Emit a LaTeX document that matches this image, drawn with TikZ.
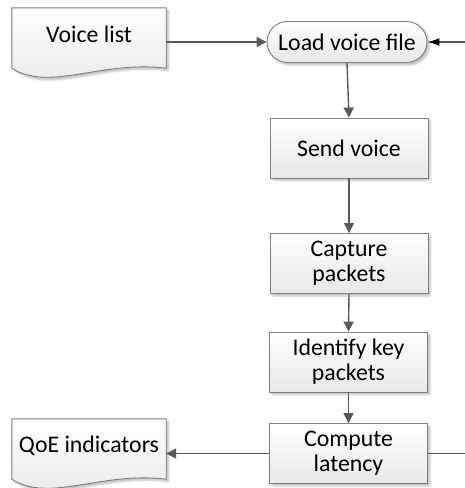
\documentclass[tikz,border=0pt]{standalone}
\usepackage{fontspec}
\setmainfont{Carlito}
\usetikzlibrary{arrows.meta,shapes.misc,shadows.blur,calc}

\definecolor{edgegray}{HTML}{7F7F7F}
\definecolor{linegray}{HTML}{595959}

\tikzset{
  lbl/.style={font=\fontsize{23.8}{25}\selectfont, align=center, text=black},
  softshadow/.style={blur shadow={shadow xshift=2.5pt, shadow yshift=-2.5pt,
      shadow blur steps=4, shadow blur extra rounding=1pt, shadow opacity=25}},
  paper/.style={draw=edgegray, line width=0.9pt, top color=white, bottom color=black!9},
  procbox/.style={lbl, paper, softshadow, rectangle, minimum width=158pt, minimum height=60pt, inner sep=0pt},
  termbox/.style={lbl, paper, softshadow, rounded rectangle, minimum width=160pt, minimum height=41pt, inner sep=0pt},
  docbox/.style={lbl, rectangle, minimum width=154pt, minimum height=60pt, inner sep=0pt},
  flow/.style={draw=linegray, line width=1.4pt, -{Triangle[width=10pt,length=10pt]}},
  feed/.style={draw=linegray, line width=1.4pt, -{Latex[width=8pt,length=12pt,black]}},
  plain/.style={draw=linegray, line width=1.4pt},
}

% document symbol: flat top, wavy bottom
\newcommand{\docshape}[1]{%
  \path[paper, softshadow]
    (#1.north west) -- (#1.north east) -- (#1.south east)
    .. controls ($(#1.south east)+(-66,-8)$) and ($(#1.south west)+(38,24)$) .. (#1.south west)
    -- cycle;
}

\begin{document}
\begin{tikzpicture}[x=1pt, y=-1pt]
  \useasboundingbox (0,0) rectangle (465,488);

  % documents
  \node[docbox] (vl) at (89,38) {};
  \docshape{vl}
  \node[lbl] (vltxt) at (89,34) {Voice list};

  \node[docbox] (qoe) at (89,449) {};
  \docshape{qoe}
  \node[lbl] (qoetxt) at (89,446) {QoE indicators};

  % process chain
  \node[termbox] (lvf) at (347,42) {Load voice file};
  \node[procbox] (sv)  at (349,148) {Send voice};
  \node[procbox] (cp)  at (349,263.5) {Capture\\packets};
  \node[procbox] (ik)  at (348.5,362) {Identify key\\packets};
  \node[procbox] (cl)  at (348.5,453.5) {Compute\\latency};

  % loop ends leaving the frame on the right
  \coordinate (loopin)  at (465,42);
  \coordinate (loopout) at (465,453.5);

  % connectors
  \draw[flow] (vl.east |- lvf.west) -- (lvf.west);
  \draw[feed] (loopin) -- (lvf.east);
  \draw[flow] (lvf.south) -- (sv.north);
  \draw[flow] (sv.south) -- (cp.north);
  \draw[flow] (cp.south) -- (ik.north);
  \draw[flow] (ik.south) -- (cl.north);
  \draw[flow] (cl.west) -- (qoe.east |- cl.west);
  \draw[plain] (cl.east) -- (loopout);
\end{tikzpicture}
\end{document}
